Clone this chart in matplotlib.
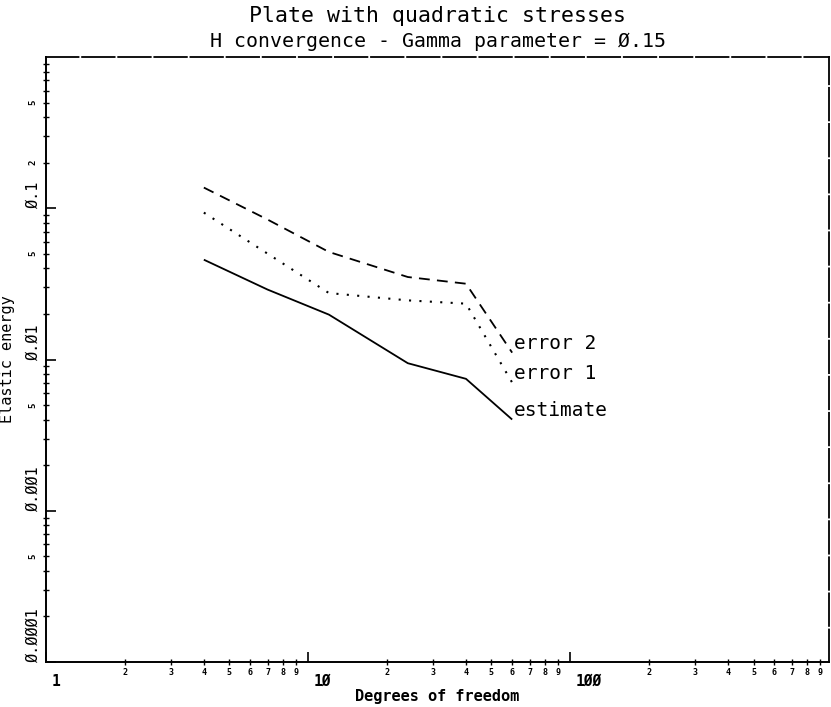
import matplotlib
matplotlib.use("Agg")
import matplotlib.pyplot as plt
from matplotlib.ticker import FixedLocator, NullFormatter

# values (log-log)
dof = [4, 7, 12, 24, 40, 60]
estimate = [0.0457, 0.0290, 0.0198, 0.00945, 0.00745, 0.00401]
error_1 = [0.0936, 0.0501, 0.0275, 0.0246, 0.0234, 0.00704]
error_2 = [0.137, 0.0842, 0.0514, 0.0351, 0.0317, 0.0111]

x_major = [1, 10, 100]
x_major_labels = ["1", "1Ø", "1ØØ"]
y_major = [0.1, 0.01, 0.001, 0.0001]
y_major_labels = ["Ø.1", "Ø.Ø1", "Ø.ØØ1", "Ø.ØØØ1"]
y_minor_labeled = [0.5, 0.2, 0.05, 0.005, 0.0005]
y_minor_text = ["5", "2", "5", "5", "5"]

MONO = "DejaVu Sans Mono"
W, H = 831, 707

fig = plt.figure(figsize=(W / 100, H / 100), dpi=100)
ax = fig.add_axes([46 / W, 45 / H, 783 / W, 605 / H])

ax.plot(dof, estimate, color="black", lw=1.3, solid_capstyle="butt")
ax.plot(dof, error_1, color="black", lw=1.5, linestyle=(0, (1, 4)))
ax.plot(dof, error_2, color="black", lw=1.3, linestyle=(0, (6, 4)))

for name, series in (("error 2", error_2), ("error 1", error_1), ("estimate", estimate)):
    ax.annotate(name, xy=(dof[-1], series[-1]), xytext=(1.5, 6.5),
                textcoords="offset points", ha="left", va="center",
                fontsize=14, family=MONO)

ax.set_xscale("log")
ax.set_yscale("log")
ax.set_xlim(1, 970)
ax.set_ylim(1e-4, 1)

# ticks
x_minor = [d * k for d in x_major for k in range(2, 10)]
y_minor = [d * k for d in [1e-4, 1e-3, 1e-2, 1e-1] for k in range(2, 10)]
ax.xaxis.set_major_locator(FixedLocator(x_major))
ax.xaxis.set_minor_locator(FixedLocator(x_minor))
ax.yaxis.set_major_locator(FixedLocator(y_major))
ax.yaxis.set_minor_locator(FixedLocator(y_minor))
for axis in (ax.xaxis, ax.yaxis):
    axis.set_major_formatter(NullFormatter())
    axis.set_minor_formatter(NullFormatter())
ax.tick_params(which="major", direction="in", length=7, width=1.2)
ax.tick_params(which="minor", direction="inout", length=4, width=1.0)

xt = ax.get_xaxis_transform()
yt = ax.get_yaxis_transform()
for v, lab in zip(x_major, x_major_labels):
    ax.annotate(lab, xy=(v, 0), xycoords=xt, xytext=(4, -14), textcoords="offset points",
                ha="left", va="center", fontsize=10.5, family=MONO, fontweight="bold")
for v in x_minor:
    ax.annotate(str(int(round(v / 10 ** (len(str(int(v))) - 1)))), xy=(v, 0), xycoords=xt,
                xytext=(0, -7.5), textcoords="offset points", ha="center", va="center",
                fontsize=6, family=MONO, fontweight="bold")
for v, lab in zip(y_major, y_major_labels):
    ax.annotate(lab, xy=(0, v), xycoords=yt, xytext=(-9.5, 0), textcoords="offset points",
                ha="center", va="bottom", rotation=90, fontsize=11, family=MONO)
for v, lab in zip(y_minor_labeled, y_minor_text):
    ax.annotate(lab, xy=(0, v), xycoords=yt, xytext=(-9.5, 0), textcoords="offset points",
                ha="center", va="center", rotation=90, fontsize=6.5, family=MONO,
                fontweight="bold")

for side in ("left", "bottom"):
    ax.spines[side].set_linewidth(1.4)
for side in ("top", "right"):
    ax.spines[side].set_linewidth(1.3)
    ax.spines[side].set_linestyle((0, (18, 2)))

ax.set_xlabel("Degrees of freedom", family=MONO, fontsize=11, fontweight="bold", labelpad=14)
ax.set_ylabel("Elastic energy", family=MONO, fontsize=11)
ax.yaxis.set_label_coords(-0.04, 0.5)

fig.text(0.5 * (46 + 829) / W, 1 - 22 / H, "Plate with quadratic stresses",
         ha="center", va="baseline", fontsize=15.5, family=MONO)
fig.text(0.5 * (46 + 829) / W, 1 - 47 / H, "H convergence - Gamma parameter = Ø.15",
         ha="center", va="baseline", fontsize=14.3, family=MONO)

fig.savefig("out.png", dpi=100)
